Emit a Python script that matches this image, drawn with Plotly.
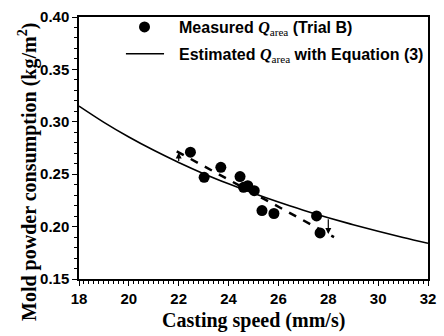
import numpy as np
import plotly.graph_objects as go

# Measured data (Trial B)
meas_x = [22.47, 23.02, 23.69, 24.46, 24.60, 24.77, 25.03, 25.34, 25.82, 27.53, 27.67]
meas_y = [0.271, 0.247, 0.2566, 0.2477, 0.2375, 0.239, 0.2343, 0.2153, 0.2125, 0.2102, 0.194]

# Estimated curve with Equation (3)
curve_x = [18, 19, 20, 21, 22, 23, 24, 25, 26, 27, 28, 29, 30, 31, 32]
curve_y = [0.315, 0.2995, 0.2855, 0.2728, 0.2612, 0.2505, 0.2408, 0.2318,
           0.2234, 0.2157, 0.2085, 0.2018, 0.1955, 0.1896, 0.1841]

# Dashed trend line of measured data
trend_x = [21.92, 28.23]
trend_y = [0.2718, 0.190]

# Arrow positions (difference between curve and trend)
arrow_x = [22, 28]

x_ticks = [18, 20, 22, 24, 26, 28, 30, 32]
y_ticks = [0.15, 0.20, 0.25, 0.30, 0.35, 0.40]

SANS = "Arial, Liberation Sans"
SERIF = "Liberation Serif"

fig = go.Figure()
fig.add_trace(go.Scatter(x=curve_x, y=curve_y, mode="lines", line_shape="spline",
                         line=dict(color="black", width=1.6), showlegend=False,
                         hoverinfo="skip"))
fig.add_trace(go.Scatter(x=trend_x, y=trend_y, mode="lines",
                         line=dict(color="black", width=2.5, dash="8px,8px"),
                         showlegend=False, hoverinfo="skip"))
fig.add_trace(go.Scatter(x=meas_x, y=meas_y, mode="markers",
                         marker=dict(color="black", size=11), showlegend=False))

# arrows from curve to trend line
for ax_ in arrow_x:
    yc = float(np.interp(ax_, curve_x, curve_y))
    yt = float(np.interp(ax_, trend_x, trend_y))
    fig.add_annotation(x=ax_, y=yt, ax=ax_, ay=yc, xref="x", yref="y",
                       axref="x", ayref="y", showarrow=True, arrowhead=2,
                       arrowsize=1, arrowwidth=1.2, arrowcolor="black", text="")

L, R, T, B = 79, 8, 15, 57
W, H = 444, 336
pw, ph = W - L - R, H - T - B

def px(x):
    return (x - L) / pw

def py(y):
    return (H - B - y) / ph

# Legend
fig.add_shape(type="circle", xref="paper", yref="paper", xsizemode="pixel",
              ysizemode="pixel", xanchor=px(146), yanchor=py(25),
              x0=-5.5, x1=5.5, y0=-5.5, y1=5.5,
              fillcolor="black", line=dict(color="black", width=0))
fig.add_shape(type="line", xref="paper", yref="paper", x0=px(127), x1=px(166),
              y0=py(52), y1=py(52), line=dict(color="black", width=1.6))

q = ("<i><span style='font-family:Liberation Serif'>Q</span></i>"
     "<sub><span style='font-family:Liberation Serif;font-weight:normal'>area</span></sub>")
fig.add_annotation(xref="paper", yref="paper", x=px(179), y=py(27), xanchor="left",
                   yanchor="middle", showarrow=False,
                   text="Measured " + q + " (Trial B)",
                   font=dict(family=SANS, size=16, color="black", weight="bold"))
fig.add_annotation(xref="paper", yref="paper", x=px(179), y=py(54), xanchor="left",
                   yanchor="middle", showarrow=False,
                   text="Estimated " + q + " with Equation (3)",
                   font=dict(family=SANS, size=16, color="black", weight="bold"))

# Axis titles
fig.add_annotation(xref="paper", yref="paper", x=px(258), y=py(321), xanchor="center",
                   yanchor="middle", showarrow=False,
                   text="Casting speed (mm/s)",
                   font=dict(family=SERIF, size=20, color="black", weight="bold"))
fig.add_annotation(xref="paper", yref="paper", x=px(27), y=py(171), xanchor="center",
                   yanchor="middle", showarrow=False, textangle=-90,
                   text="Mold powder consumption (kg/m<sup>2</sup>)",
                   font=dict(family=SERIF, size=20, color="black", weight="bold"))

axis_common = dict(showline=True, linecolor="black", linewidth=1.5, mirror=True,
                   ticks="outside", ticklen=5, tickwidth=1.2, tickcolor="black",
                   showgrid=False, zeroline=False,
                   tickfont=dict(family=SANS, size=15, color="black", weight="bold"))

fig.update_xaxes(range=[18, 32], tickvals=x_ticks,
                 ticktext=[f"{v}" for v in x_ticks],
                 minor=dict(dtick=0.2, ticks="outside", ticklen=3, tickwidth=1,
                            tickcolor="black", showgrid=False),
                 **axis_common)
fig.update_yaxes(range=[0.15, 0.40], tickvals=y_ticks,
                 ticktext=[f"{v:.2f}" for v in y_ticks],
                 minor=dict(dtick=0.01, ticks="outside", ticklen=3, tickwidth=1,
                            tickcolor="black", showgrid=False),
                 **axis_common)

fig.update_layout(width=W, height=H, margin=dict(l=L, r=R, t=T, b=B),
                  plot_bgcolor="white", paper_bgcolor="white", showlegend=False)

fig.write_html("out.html")
